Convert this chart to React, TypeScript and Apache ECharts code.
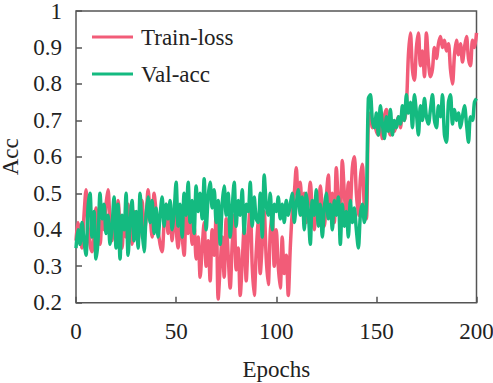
import React, { useEffect, useRef } from "react";
import * as echarts from "echarts";

const epochs: number[] = Array.from({ length: 201 }, (_, i) => i);

const trainLoss: number[] = [
  0.37, 0.42, 0.39, 0.35, 0.44, 0.51, 0.41, 0.36, 0.34, 0.40,
  0.46, 0.38, 0.36, 0.43, 0.40, 0.47, 0.51, 0.42, 0.37, 0.44,
  0.39, 0.48, 0.41, 0.35, 0.43, 0.38, 0.47, 0.40, 0.36, 0.45,
  0.41, 0.37, 0.44, 0.48, 0.39, 0.43, 0.51, 0.44, 0.38, 0.50,
  0.45, 0.40, 0.36, 0.34, 0.42, 0.47, 0.39, 0.44, 0.37, 0.45,
  0.40, 0.35, 0.42, 0.38, 0.33, 0.44, 0.39, 0.46, 0.36, 0.41,
  0.32, 0.38, 0.27, 0.35, 0.42, 0.30, 0.37, 0.26, 0.40, 0.33,
  0.45, 0.21, 0.30, 0.38, 0.27, 0.43, 0.33, 0.24, 0.36, 0.44,
  0.29, 0.35, 0.22, 0.31, 0.41, 0.26, 0.38, 0.47, 0.30, 0.22,
  0.34, 0.42, 0.28, 0.36, 0.45, 0.32, 0.25, 0.39, 0.44, 0.30,
  0.40, 0.30, 0.24, 0.38, 0.28, 0.33, 0.22, 0.35, 0.45, 0.50,
  0.57, 0.48, 0.53, 0.44, 0.50, 0.42, 0.47, 0.53, 0.45, 0.40,
  0.48, 0.43, 0.52, 0.46, 0.41, 0.49, 0.55, 0.44, 0.50, 0.42,
  0.57, 0.48, 0.45, 0.59, 0.50, 0.43, 0.53, 0.47, 0.57, 0.60,
  0.50, 0.44, 0.54, 0.58, 0.46, 0.43, 0.70, 0.72, 0.68, 0.70,
  0.67, 0.66, 0.69, 0.65, 0.71, 0.73, 0.68, 0.66, 0.70, 0.67,
  0.69, 0.71, 0.68, 0.72, 0.70, 0.74, 0.88, 0.94, 0.84, 0.81,
  0.90, 0.94, 0.85, 0.89, 0.82, 0.94, 0.86, 0.82, 0.84, 0.90,
  0.87, 0.91, 0.93, 0.90, 0.92, 0.89, 0.91, 0.84, 0.80, 0.88,
  0.92, 0.88, 0.91, 0.86, 0.90, 0.93, 0.87, 0.85, 0.92, 0.90,
  0.94,
];

const valAcc: number[] = [
  0.35, 0.40, 0.36, 0.42, 0.37, 0.33, 0.46, 0.50, 0.38, 0.45,
  0.32, 0.37, 0.50, 0.43, 0.47, 0.39, 0.44, 0.36, 0.41, 0.49,
  0.35, 0.47, 0.32, 0.44, 0.40, 0.50, 0.33, 0.42, 0.48, 0.37,
  0.45, 0.35, 0.50, 0.40, 0.34, 0.44, 0.49, 0.42, 0.48, 0.39,
  0.46, 0.38, 0.44, 0.49, 0.41, 0.47, 0.43, 0.48, 0.40, 0.45,
  0.53, 0.41, 0.47, 0.38, 0.50, 0.44, 0.53, 0.42, 0.48, 0.39,
  0.52, 0.45, 0.50, 0.43, 0.54, 0.40, 0.49, 0.53, 0.46, 0.51,
  0.42, 0.48, 0.36, 0.47, 0.52, 0.44, 0.50, 0.38, 0.46, 0.53,
  0.41, 0.48, 0.44, 0.51, 0.39, 0.47, 0.45, 0.53, 0.41, 0.49,
  0.43, 0.42, 0.50, 0.38, 0.55, 0.47, 0.44, 0.50, 0.40, 0.47,
  0.45, 0.49, 0.43, 0.47, 0.42, 0.48, 0.44, 0.47, 0.50, 0.42,
  0.47, 0.51, 0.44, 0.49, 0.40, 0.50, 0.45, 0.36, 0.48, 0.44,
  0.51, 0.41, 0.47, 0.38, 0.46, 0.50, 0.43, 0.47, 0.40, 0.48,
  0.44, 0.49, 0.36, 0.47, 0.41, 0.45, 0.38, 0.48, 0.42, 0.46,
  0.40, 0.35, 0.44, 0.47, 0.42, 0.47, 0.76, 0.77, 0.70, 0.68,
  0.72, 0.66, 0.74, 0.69, 0.65, 0.71, 0.67, 0.73, 0.66, 0.70,
  0.68, 0.71, 0.69, 0.74, 0.70, 0.77, 0.72, 0.75, 0.68, 0.77,
  0.72, 0.66, 0.74, 0.70, 0.76, 0.71, 0.69, 0.73, 0.77, 0.70,
  0.68, 0.74, 0.71, 0.77, 0.66, 0.64, 0.75, 0.77, 0.69, 0.73,
  0.70, 0.72, 0.68, 0.71, 0.74, 0.69, 0.64, 0.71, 0.70, 0.75,
  0.76,
];

const xTicks = { min: 0, max: 200, interval: 50 };
const yTicks = { min: 0.2, max: 1, interval: 0.1 };

const RED = "#F25C78";
const GREEN = "#14BA80";
const FONT = "'Liberation Serif', 'Times New Roman', serif";
const FS = 23;

export default function App() {
  const ref = useRef<HTMLDivElement>(null);
  useEffect(() => {
    document.body.style.margin = "0";
    if (!ref.current) return;
    const chart = echarts.init(ref.current, undefined, { renderer: "svg" });
    const axisCommon = {
      axisLine: { show: false },
      axisTick: { show: true, inside: true, length: 6, lineStyle: { color: "#555", width: 1.5 } },
      splitLine: { show: false },
      axisLabel: { color: "#222", fontFamily: FONT, fontSize: FS },
      nameTextStyle: { color: "#222", fontFamily: FONT, fontSize: FS },
    };
    chart.setOption({
      animation: false,
      backgroundColor: "#fff",
      grid: {
        left: 76,
        top: 11,
        right: 16.5,
        bottom: 80.3,
        containLabel: false,
        outerBoundsMode: "none",
        show: true,
        borderColor: "#555",
        borderWidth: 1.5,
      },
      legend: {
        orient: "vertical",
        left: 92,
        top: 24,
        padding: 0,
        itemWidth: 41,
        itemHeight: 3,
        itemGap: 11,
        icon: "rect",
        textStyle: { color: "#222", fontFamily: FONT, fontSize: FS, lineHeight: 26, padding: [0, 0, 0, 3] },
        data: ["Train-loss", "Val-acc"],
      },
      xAxis: {
        type: "value",
        ...xTicks,
        ...axisCommon,
        axisLabel: { ...axisCommon.axisLabel, margin: 17 },
        name: "Epochs",
        nameLocation: "middle",
        nameGap: 55,
      },
      yAxis: {
        type: "value",
        ...yTicks,
        ...axisCommon,
        axisLabel: { ...axisCommon.axisLabel, margin: 14 },
        name: "Acc",
        nameLocation: "middle",
        nameGap: 49,
      },
      series: [
        {
          name: "Train-loss",
          type: "line",
          data: epochs.map((e, i) => [e, trainLoss[i]]),
          showSymbol: false,
          symbol: "none",
          smooth: 0.3,
          lineStyle: { color: RED, width: 3.5 },
          itemStyle: { color: RED },
        },
        {
          name: "Val-acc",
          type: "line",
          data: epochs.map((e, i) => [e, valAcc[i]]),
          showSymbol: false,
          symbol: "none",
          smooth: 0.3,
          lineStyle: { color: GREEN, width: 3.5 },
          itemStyle: { color: GREEN },
        },
      ],
    });
    return () => chart.dispose();
  }, []);
  return <div ref={ref} style={{ width: 493, height: 383 }} />;
}
